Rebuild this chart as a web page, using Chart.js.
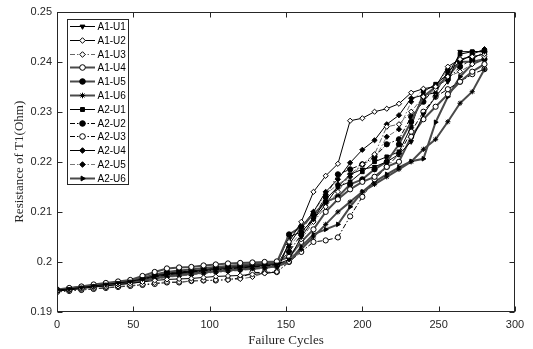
<!DOCTYPE html>
<html>
<head>
<meta charset="utf-8">
<script src="https://cdn.jsdelivr.net/npm/chart.js@4.4.0/dist/chart.umd.min.js"></script>
<style>
html,body{margin:0;padding:0;background:#fff;}
#wrap{width:533px;height:349px;position:relative;}
</style>
</head>
<body>
<div id="wrap"><canvas id="c" width="533" height="349"></canvas></div>
<script>
// ---- data ----
const cycles = [0,8,16,24,32,40,48,56,64,72,80,88,96,104,112,120,128,136,144,152,160,168,176,184,192,200,208,216,224,232,240,248,256,264,272,280];
const seriesNames = ['A1-U1','A1-U2','A1-U3','A1-U4','A1-U5','A1-U6','A2-U1','A2-U2','A2-U3','A2-U4','A2-U5','A2-U6'];

const a1u1 = [0.1944,0.1946,0.1949,0.1952,0.1955,0.1958,0.1961,0.1966,0.1972,0.1976,0.1978,0.1980,0.1983,0.1985,0.1987,0.1989,0.1991,0.1993,0.1995,
              0.2005,0.2050,0.2085,0.2125,0.2150,0.2175,0.2185,0.2190,0.2200,0.2215,0.2240,0.2295,0.2330,0.2360,0.2420,0.2420,0.2420];
const a1u2 = [0.1942,0.1944,0.1947,0.1950,0.1952,0.1955,0.1957,0.1960,0.1963,0.1965,0.1966,0.1967,0.1969,0.1971,0.1972,0.1973,0.1975,0.1977,0.1980,
              0.2040,0.2080,0.2140,0.2172,0.2196,0.2282,0.2287,0.2300,0.2306,0.2316,0.2338,0.2346,0.2350,0.2390,0.2405,0.2410,0.2415];
const a1u3 = [0.1941,0.1943,0.1945,0.1947,0.1949,0.1951,0.1953,0.1955,0.1958,0.1960,0.1960,0.1962,0.1963,0.1964,0.1964,0.1966,0.1970,0.1978,0.1979,
              0.2000,0.2045,0.2080,0.2110,0.2140,0.2175,0.2195,0.2215,0.2270,0.2275,0.2300,0.2330,0.2345,0.2370,0.2380,0.2395,0.2410];
const a1u4 = [0.1945,0.1948,0.1951,0.1955,0.1958,0.1961,0.1964,0.1972,0.1980,0.1987,0.1989,0.1990,0.1993,0.1995,0.1997,0.1998,0.1999,0.2000,0.2001,
              0.2010,0.2040,0.2065,0.2100,0.2125,0.2145,0.2160,0.2170,0.2190,0.2200,0.2250,0.2285,0.2310,0.2335,0.2360,0.2380,0.2395];
const a1u5 = [0.1944,0.1947,0.1950,0.1953,0.1956,0.1959,0.1962,0.1968,0.1975,0.1980,0.1983,0.1985,0.1988,0.1990,0.1992,0.1994,0.1996,0.1998,0.1999,
              0.2055,0.2070,0.2095,0.2120,0.2130,0.2155,0.2165,0.2185,0.2200,0.2235,0.2280,0.2330,0.2350,0.2370,0.2400,0.2400,0.2405];
const a1u6 = [0.1943,0.1945,0.1948,0.1951,0.1953,0.1956,0.1958,0.1962,0.1967,0.1971,0.1974,0.1976,0.1979,0.1981,0.1983,0.1985,0.1987,0.1989,0.1991,
              0.2000,0.2025,0.2050,0.2075,0.2100,0.2120,0.2140,0.2155,0.2170,0.2185,0.2200,0.2225,0.2245,0.2280,0.2317,0.2340,0.2385];
const a2u1 = [0.1944,0.1947,0.1950,0.1953,0.1956,0.1959,0.1962,0.1967,0.1973,0.1978,0.1980,0.1982,0.1985,0.1988,0.1990,0.1992,0.1994,0.1996,0.1997,
              0.2050,0.2060,0.2085,0.2115,0.2150,0.2160,0.2180,0.2200,0.2210,0.2220,0.2270,0.2340,0.2355,0.2375,0.2415,0.2420,0.2420];
const a2u2 = [0.1943,0.1946,0.1949,0.1952,0.1954,0.1957,0.1960,0.1964,0.1970,0.1974,0.1977,0.1979,0.1982,0.1984,0.1986,0.1988,0.1990,0.1992,0.1994,
              0.2020,0.2055,0.2090,0.2130,0.2175,0.2185,0.2195,0.2210,0.2235,0.2245,0.2290,0.2320,0.2350,0.2365,0.2390,0.2405,0.2420];
const a2u3 = [0.1940,0.1942,0.1944,0.1946,0.1948,0.1950,0.1952,0.1954,0.1956,0.1959,0.1959,0.1962,0.1963,0.1963,0.1965,0.1968,0.1979,0.1979,0.1980,
              0.2000,0.2020,0.2040,0.2043,0.2049,0.2091,0.2130,0.2165,0.2190,0.2215,0.2260,0.2300,0.2330,0.2345,0.2360,0.2375,0.2385];
const a2u4 = [0.1943,0.1946,0.1949,0.1951,0.1954,0.1957,0.1959,0.1963,0.1968,0.1972,0.1975,0.1977,0.1980,0.1982,0.1984,0.1986,0.1988,0.1990,0.1992,
              0.2035,0.2070,0.2100,0.2140,0.2165,0.2198,0.2224,0.2243,0.2275,0.2293,0.2327,0.2333,0.2338,0.2380,0.2400,0.2415,0.2425];
const a2u5 = [0.1942,0.1945,0.1948,0.1950,0.1953,0.1955,0.1958,0.1961,0.1965,0.1969,0.1972,0.1974,0.1977,0.1979,0.1981,0.1983,0.1985,0.1987,0.1990,
              0.2030,0.2060,0.2100,0.2135,0.2155,0.2170,0.2195,0.2205,0.2250,0.2265,0.2320,0.2345,0.2350,0.2385,0.2405,0.2410,0.2415];
const a2u6 = [0.1944,0.1947,0.1950,0.1952,0.1955,0.1958,0.1961,0.1965,0.1971,0.1975,0.1978,0.1981,0.1984,0.1986,0.1988,0.1990,0.1992,0.1994,0.1996,
              0.2000,0.2030,0.2055,0.2065,0.2075,0.2110,0.2140,0.2160,0.2175,0.2189,0.2201,0.2206,0.2279,0.2330,0.2370,0.2395,0.2405];

const yTicks = [0.19,0.20,0.21,0.22,0.23,0.24,0.25];
const xTicks = [0,50,100,150,200,250,300];

// ---- styles ----
const DASHDOT = [5,2,1.5,2];
const GR = '#4a4a4a';
const styles = [
  {pt:'triangle', rot:180, fill:'#000', line:'#000', w:1, dash:[]},
  {pt:'rectRot', rot:0, fill:'#fff', line:'#000', w:1, dash:[]},
  {pt:'rectRot', rot:0, fill:'#fff', line:'#666', w:1, dash:DASHDOT},
  {pt:'circle', rot:0, fill:'#fff', line:GR, w:2, dash:[]},
  {pt:'circle', rot:0, fill:'#000', line:GR, w:2, dash:[]},
  {pt:'star', rot:0, fill:'#000', line:GR, w:2, dash:[]},
  {pt:'rect', rot:0, fill:'#000', line:'#000', w:1, dash:[]},
  {pt:'circle', rot:0, fill:'#000', line:'#000', w:1, dash:DASHDOT},
  {pt:'circle', rot:0, fill:'#fff', line:'#000', w:1, dash:DASHDOT},
  {pt:'rectRot', rot:0, fill:'#000', line:'#000', w:1, dash:[]},
  {pt:'rectRot', rot:0, fill:'#000', line:'#777', w:1, dash:DASHDOT},
  {pt:'triangle', rot:90, fill:'#000', line:GR, w:2, dash:[]}
];
const allSeries = [a1u1,a1u2,a1u3,a1u4,a1u5,a1u6,a2u1,a2u2,a2u3,a2u4,a2u5,a2u6];

const datasets = allSeries.map((vals, k) => ({
  label: seriesNames[k],
  data: cycles.map((c, i) => ({x: c, y: vals[i]})),
  borderColor: styles[k].line,
  borderWidth: styles[k].w,
  borderDash: styles[k].dash,
  backgroundColor: styles[k].fill,
  pointStyle: styles[k].pt,
  pointRotation: styles[k].rot,
  pointRadius: 2.6,
  pointBorderColor: '#000',
  pointBackgroundColor: styles[k].fill,
  pointBorderWidth: 1,
  tension: 0,
  fill: false
}));

const AX = '#262626';

const framePlugin = {
  id: 'frame',
  afterDatasetsDraw(chart) {
    const {ctx, chartArea: a, scales: {x, y}} = chart;
    ctx.save();
    ctx.strokeStyle = AX;
    ctx.lineWidth = 1;
    ctx.setLineDash([]);
    const L = Math.round(a.left) + 0.5, R = Math.round(a.right) - 0.5;
    const T = Math.round(a.top) + 0.5, B = Math.round(a.bottom) - 0.5;
    ctx.strokeRect(L, T, R - L, B - T);
    const tl = 5;
    ctx.beginPath();
    xTicks.forEach(v => {
      const px = Math.round(x.getPixelForValue(v)) + 0.5;
      ctx.moveTo(px, B); ctx.lineTo(px, B - tl);
      ctx.moveTo(px, T); ctx.lineTo(px, T + tl);
    });
    yTicks.forEach(v => {
      const py = Math.round(y.getPixelForValue(v)) + 0.5;
      ctx.moveTo(L, py); ctx.lineTo(L + tl, py);
      ctx.moveTo(R, py); ctx.lineTo(R - tl, py);
    });
    ctx.stroke();

    // legend
    const lx = 67.5, ly = 19.5, lw = 61, lh = 165, rowH = 13.8, y0 = 26;
    ctx.fillStyle = '#fff';
    ctx.fillRect(lx, ly, lw, lh);
    ctx.strokeStyle = AX;
    ctx.strokeRect(lx, ly, lw, lh);
    ctx.font = '10px "Liberation Sans", Arial, sans-serif';
    ctx.textBaseline = 'middle';
    ctx.textAlign = 'left';
    seriesNames.forEach((name, k) => {
      const s = styles[k];
      const yy = Math.round(y0 + k * rowH) + 0.5;
      ctx.save();
      ctx.strokeStyle = s.line;
      ctx.lineWidth = s.w;
      ctx.setLineDash(s.dash);
      ctx.beginPath();
      ctx.moveTo(70, yy); ctx.lineTo(95, yy);
      ctx.stroke();
      ctx.setLineDash([]);
      ctx.fillStyle = s.fill;
      ctx.strokeStyle = '#000';
      ctx.lineWidth = 1;
      Chart.helpers.drawPoint(ctx, {pointStyle: s.pt, rotation: s.rot, radius: 2.8, borderWidth: 1}, 82.5, yy);
      ctx.restore();
      ctx.fillStyle = '#000';
      ctx.fillText(name, 97.5, yy + 0.5);
    });
    ctx.restore();
  }
};

new Chart(document.getElementById('c'), {
  type: 'line',
  data: { datasets },
  plugins: [framePlugin],
  options: {
    responsive: false,
    animation: false,
    layout: { padding: { top: 8, right: 18, left: 0, bottom: 0 } },
    plugins: { legend: { display: false }, tooltip: { enabled: false } },
    scales: {
      x: {
        type: 'linear', min: 0, max: 300,
        afterBuildTicks: s => { s.ticks = xTicks.map(v => ({value: v})); },
        afterFit: s => { s.height = 37; },
        grid: { display: false, drawTicks: false },
        border: { display: false },
        ticks: { color: AX, padding: 6, font: { family: '"Liberation Sans", Arial', size: 11 }, maxRotation: 0 },
        title: { display: true, text: 'Failure Cycles', color: AX, padding: { top: 0, bottom: 1 },
                 font: { family: '"Liberation Serif", "Times New Roman", serif', size: 13 } }
      },
      y: {
        type: 'linear', min: 0.19, max: 0.25,
        afterBuildTicks: s => { s.ticks = yTicks.map(v => ({value: v})); },
        afterFit: s => { s.width = 57; },
        grid: { display: false, drawTicks: false },
        border: { display: false },
        ticks: { color: AX, padding: 5, font: { family: '"Liberation Sans", Arial', size: 11 },
                 callback: v => String(Number(v.toFixed(2))) },
        title: { display: true, text: 'Resistance of T1(Ohm)', color: AX, padding: { top: 12, bottom: 0 },
                 font: { family: '"Liberation Serif", "Times New Roman", serif', size: 13 } }
      }
    }
  }
});
</script>
</body>
</html>
